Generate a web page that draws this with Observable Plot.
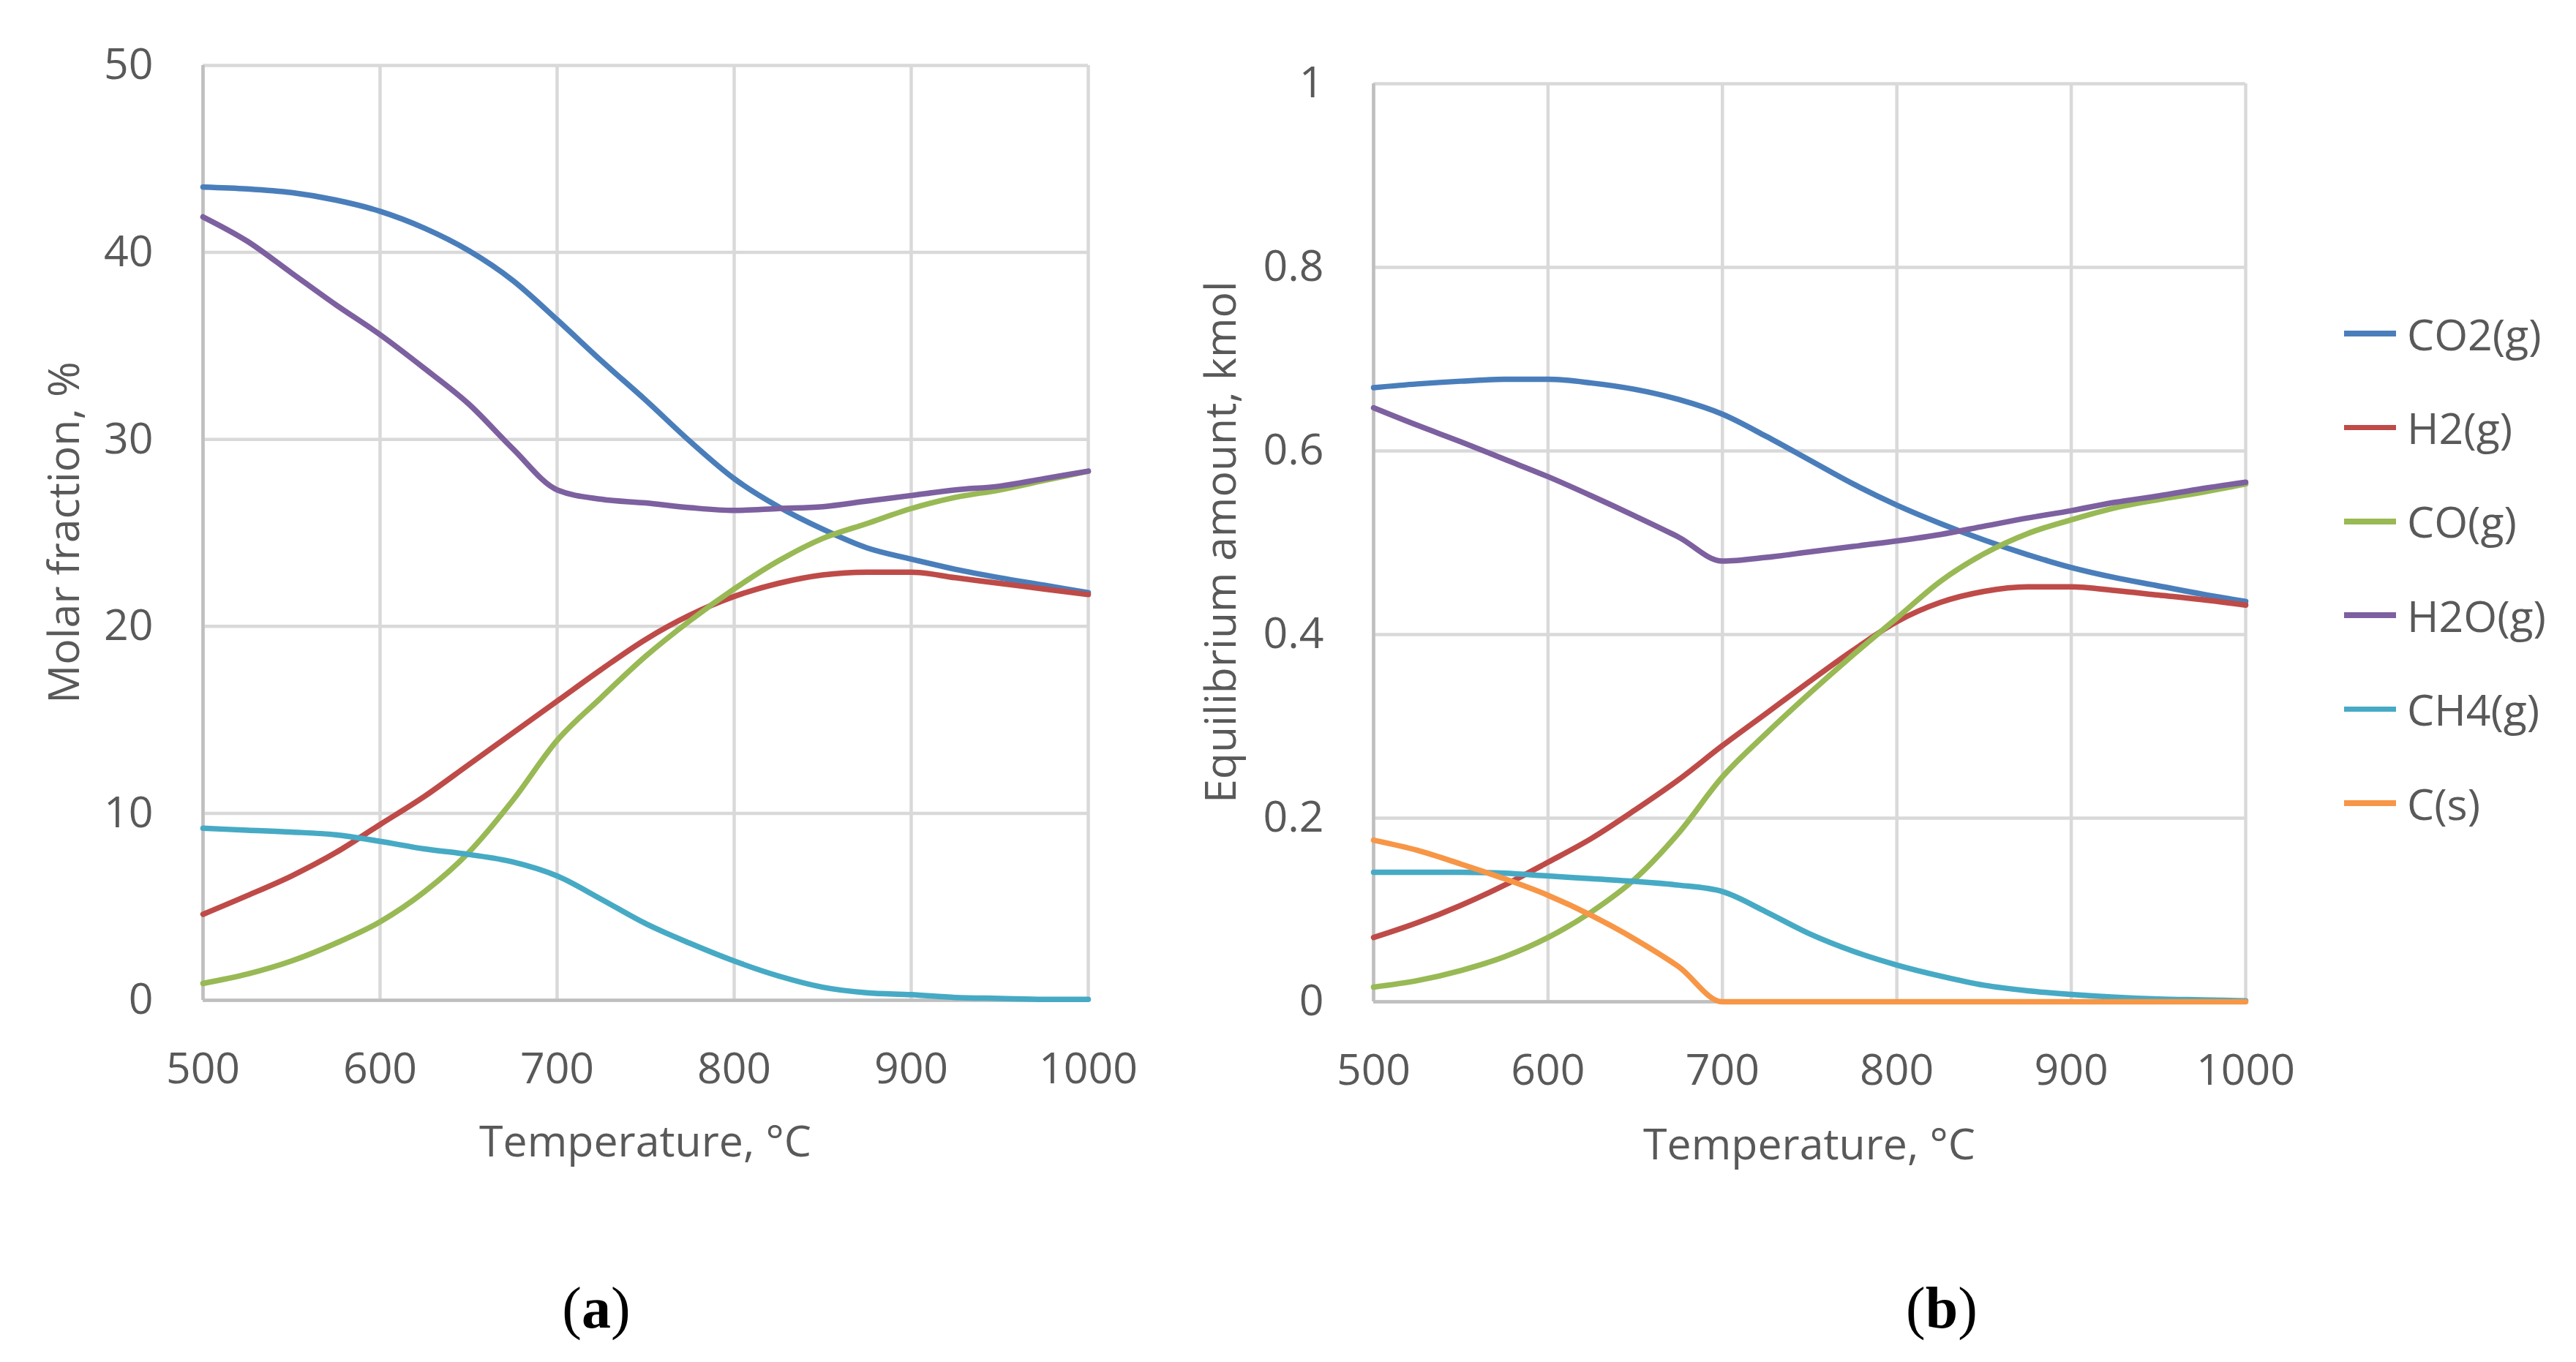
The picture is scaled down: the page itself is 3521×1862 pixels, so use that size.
<!DOCTYPE html>
<html><head><meta charset="utf-8">
<script src="https://cdn.jsdelivr.net/npm/d3@7"></script>
<script src="https://cdn.jsdelivr.net/npm/@observablehq/plot@0.6"></script>
<style>
body{margin:0;background:#fff;width:3521px;height:1862px;position:relative;overflow:hidden;font-family:"Open Sans",sans-serif;color:#595959}
.abs{position:absolute;white-space:nowrap;line-height:1}
.lbl{font-family:"Liberation Serif","Times New Roman",serif;color:#000;font-size:80px}
</style></head><body>
<div id="chartA" class="abs" style="left:0;top:0"></div>
<div id="chartB" class="abs" style="left:1600px;top:0"></div>
<div id="legend"></div>
<div class="abs" style="left:882px;top:1558px;transform:translate(-50%,-50%);font-size:59px">Temperature, °C</div>
<div class="abs" style="left:2473px;top:1562px;transform:translate(-50%,-50%);font-size:59px">Temperature, °C</div>
<div class="abs" style="left:85px;top:728px;transform:translate(-50%,-50%) rotate(-90deg);font-size:59px">Molar fraction, %</div>
<div class="abs" style="left:1666px;top:741px;transform:translate(-50%,-50%) rotate(-90deg);font-size:59px">Equilibrium amount, kmol</div>
<div class="abs lbl" style="left:815px;top:1748px;transform:translateX(-50%)">(<b>a</b>)</div>
<div class="abs lbl" style="left:2654px;top:1748px;transform:translateX(-50%)">(<b>b</b>)</div>
<script>
const temps = [500,525,550,575,600,625,650,675,700,725,750,775,800,825,850,875,900,925,950,975,1000];
const xTicks = [500,600,700,800,900,1000];
const yTicksA = [0,10,20,30,40,50];
const yTicksB = [0,0.2,0.4,0.6,0.8,1];
const seriesNames = ["CO2(g)","H2(g)","CO(g)","H2O(g)","CH4(g)","C(s)"];
const seriesColors = ["#4a7ebb","#be4b48","#98b954","#7d60a0","#46aac5","#f79646"];

// (a) Molar fraction, %
const molarCO2 = [43.5,43.4,43.2,42.8,42.2,41.3,40.1,38.5,36.4,34.2,32.1,29.9,27.9,26.4,25.2,24.2,23.6,23.05,22.6,22.2,21.8];
const molarH2  = [4.6,5.6,6.65,7.9,9.4,10.9,12.6,14.3,16.0,17.7,19.3,20.6,21.6,22.3,22.75,22.9,22.9,22.6,22.3,22.0,21.7];
const molarCO  = [0.9,1.4,2.1,3.05,4.2,5.8,7.9,10.7,13.9,16.2,18.4,20.3,22.0,23.5,24.7,25.5,26.3,26.9,27.3,27.8,28.3];
const molarH2O = [41.9,40.6,38.9,37.2,35.6,33.8,31.9,29.5,27.3,26.8,26.6,26.35,26.2,26.3,26.4,26.7,27.0,27.3,27.5,27.9,28.3];
const molarCH4 = [9.2,9.1,9.0,8.85,8.5,8.1,7.8,7.4,6.65,5.4,4.1,3.05,2.1,1.3,0.7,0.4,0.3,0.15,0.1,0.05,0.05];

// (b) Equilibrium amount, kmol
const kmolCO2 = [0.669,0.673,0.676,0.678,0.678,0.674,0.667,0.656,0.640,0.616,0.590,0.564,0.541,0.521,0.503,0.487,0.473,0.462,0.453,0.444,0.436];
const kmolH2  = [0.070,0.086,0.105,0.127,0.152,0.178,0.209,0.242,0.279,0.314,0.349,0.383,0.414,0.435,0.447,0.452,0.452,0.448,0.443,0.438,0.432];
const kmolCO  = [0.016,0.023,0.034,0.049,0.070,0.098,0.134,0.184,0.245,0.292,0.336,0.378,0.418,0.458,0.488,0.510,0.525,0.538,0.547,0.555,0.564];
const kmolH2O = [0.647,0.628,0.610,0.591,0.572,0.551,0.529,0.506,0.480,0.484,0.490,0.496,0.502,0.509,0.518,0.527,0.535,0.544,0.551,0.559,0.566];
const kmolCH4 = [0.141,0.141,0.141,0.140,0.137,0.134,0.131,0.127,0.120,0.098,0.074,0.055,0.040,0.028,0.018,0.012,0.008,0.005,0.003,0.002,0.001];
const kmolC   = [0.176,0.165,0.150,0.134,0.116,0.094,0.068,0.038,0.000,0,0,0,0,0,0,0,0,0,0,0,0];

function longRows(names, arrays) {
  const rows = [];
  names.forEach((s, i) => arrays[i].forEach((v, j) => rows.push({s, t: temps[j], v})));
  return rows;
}
const rowsA = longRows(seriesNames.slice(0,5), [molarCO2, molarH2, molarCO, molarH2O, molarCH4]);
const rowsB = longRows(seriesNames, [kmolCO2, kmolH2, kmolCO, kmolH2O, kmolCH4, kmolC]);

function chart(rows, yDomain, yTicks, width, marginTop, marginRight, bottomY) {
  const height = 1620;
  return Plot.plot({
    width, height,
    marginLeft: 277, marginRight, marginTop, marginBottom: height - bottomY,
    style: {fontFamily: '"Open Sans", sans-serif', fontSize: "59px", color: "#595959", background: "transparent", overflow: "visible"},
    x: {domain: [500, 1000]},
    y: {domain: yDomain},
    color: {domain: seriesNames, range: seriesColors},
    marks: [
      Plot.gridX(xTicks, {stroke: "#d9d9d9", strokeOpacity: 1, strokeWidth: 4.5}),
      Plot.gridY(yTicks, {stroke: "#d9d9d9", strokeOpacity: 1, strokeWidth: 4.5}),
      Plot.ruleX([500], {stroke: "#bfbfbf", strokeWidth: 4.5}),
      Plot.ruleY([yDomain[0]], {stroke: "#bfbfbf", strokeWidth: 4.5}),
      Plot.axisX(xTicks, {tickSize: 0, tickPadding: 72, label: null, tickFormat: d => String(d)}),
      Plot.axisY(yTicks, {tickSize: 0, tickPadding: 68, label: null, tickFormat: d => String(d)}),
      Plot.line(rows, {x: "t", y: "v", z: "s", stroke: "s", strokeWidth: 7.5, curve: "monotone-x"})
    ]
  });
}

document.getElementById("chartA").append(chart(rowsA, [0, 50], yTicksA, 1560, 89, 73, 1367));
document.getElementById("chartB").append(chart(rowsB, [0, 1], yTicksB, 1500, 114, 31, 1369));

const legend = document.getElementById("legend");
seriesNames.forEach((name, i) => {
  const d = document.createElement("div");
  d.className = "abs";
  d.style.cssText = `left:3204px;top:${456 + i * 128.4 - 40}px;height:80px;display:flex;align-items:center;font-size:59px;`;
  d.innerHTML = `<span style="display:inline-block;width:71px;height:7.5px;background:${seriesColors[i]};margin-right:15px"></span><span>${name}</span>`;
  legend.append(d);
});
</script>
</body></html>
